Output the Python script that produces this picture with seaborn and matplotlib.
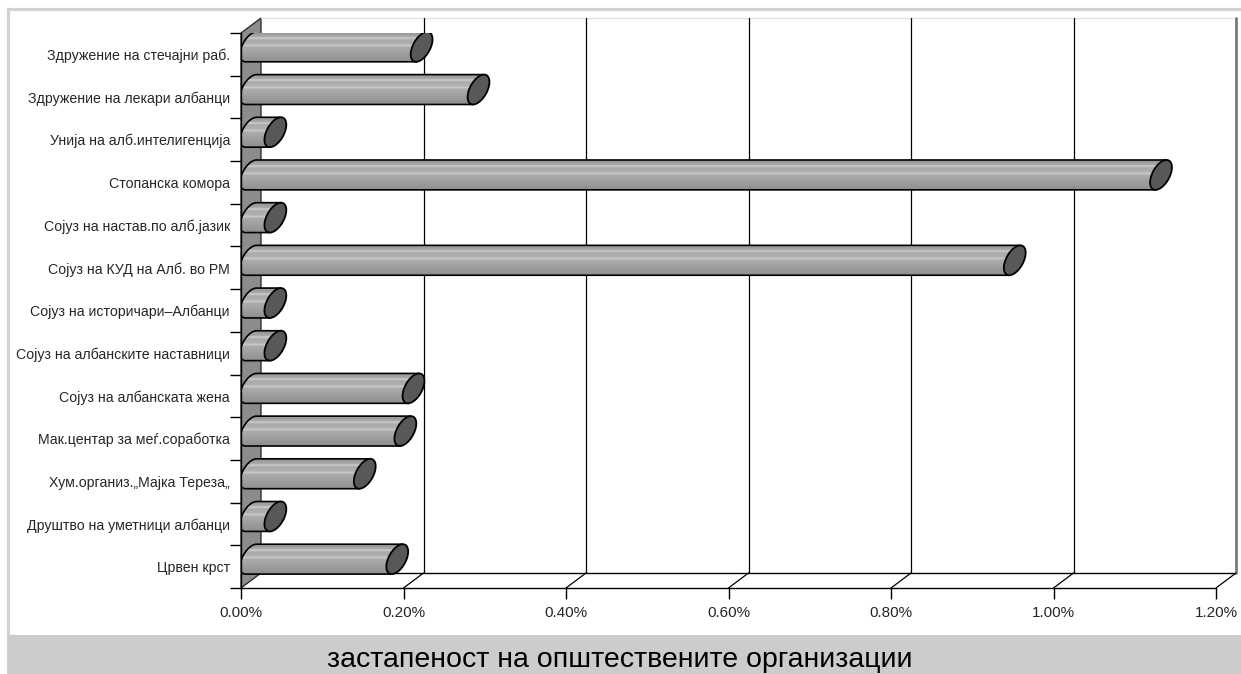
import numpy as np
import pandas as pd
import matplotlib
matplotlib.use("Agg")
import matplotlib.pyplot as plt
import seaborn as sns
from matplotlib.patches import Polygon, Rectangle
from matplotlib.lines import Line2D

# ---- data -------------------------------------------------------------
categories = [
    "Здружение на стечајни раб.",
    "Здружение на лекари албанци",
    "Унија на алб.интелигенција",
    "Стопанска комора",
    "Сојуз на настав.по алб.јазик",
    "Сојуз на КУД на Алб. во РМ",
    "Сојуз на историчари–Албанци",
    "Сојуз на албанските наставници",
    "Сојуз на албанската жена",
    "Мак.центар за меѓ.соработка",
    "Хум.организ.„Мајка Тереза„",
    "Друштво на уметници албанци",
    "Црвен крст",
]
values = [0.21, 0.28, 0.03, 1.12, 0.03, 0.94, 0.03, 0.03, 0.20, 0.19, 0.14, 0.03, 0.18]
x_ticks = [0.0, 0.2, 0.4, 0.6, 0.8, 1.0, 1.2]
x_tick_labels = [f"{t:.2f}%" for t in x_ticks]
title = "застапеност на општествените организации"

# ---- style ------------------------------------------------------------
sns.set_style("white")
plt.rcParams["font.family"] = ["Liberation Sans", "DejaVu Sans"]

W, H = 1241, 674
DX, DY = 20.0, 15.0          # depth of the 3-D box, in pixels (right, up)

fig = plt.figure(figsize=(W / 100, H / 100), dpi=100)
fig.patch.set_facecolor("white")

# outer frame and title band
fig.add_artist(Rectangle((8 / W, 0), 1.0, (H - 9) / H, transform=fig.transFigure,
                         fill=False, ec="#d2d2d2", lw=2.3, zorder=0))
fig.add_artist(Rectangle((8 / W, 0), 1.0, (H - 635) / H, transform=fig.transFigure,
                         fc="#cccccc", ec="none", zorder=0))
fig.text(620 / W, (H - 660) / H, title, ha="center", va="center",
         fontsize=20.5, color="black")

# front plane of the plot box
ax = fig.add_axes([241 / W, (H - 588) / H, 975 / W, 555 / H])
df = pd.DataFrame({"org": categories, "share": values})
sns.barplot(data=df, x="share", y="org", orient="h", width=0.7,
            color="#a0a0a0", ax=ax)

n = len(categories)
ax.set_xlim(0, 1.2)
ax.set_ylim(n - 0.5, -0.5)
ax.patch.set_alpha(0)
ax.set_xlabel("")
ax.set_ylabel("")
for side in ("top", "right"):
    ax.spines[side].set_visible(False)
for side in ("left", "bottom"):
    ax.spines[side].set_color("black")
    ax.spines[side].set_linewidth(1.0)
    ax.spines[side].set_zorder(6)

ax.set_xticks(x_ticks, x_tick_labels)
ax.tick_params(axis="x", bottom=True, length=8, width=1, color="black",
               pad=5, labelsize=11)
ax.set_yticks(range(n), categories)
ax.set_yticks(np.arange(-0.5, n, 1.0), minor=True)
ax.tick_params(axis="y", which="major", left=True, length=0, pad=8, labelsize=10.2)
ax.tick_params(axis="y", which="minor", left=True, length=8, width=1, color="black")


def disp(x, y):
    return np.asarray(ax.transData.transform((x, y)), dtype=float)


def to_data(pts):
    return ax.transData.inverted().transform(np.asarray(pts, dtype=float))


off = np.array([DX, DY])
x_min, x_max = x_ticks[0], x_ticks[-1]
y_top, y_bot = -0.5, n - 0.5

# left side wall
ft, fb = disp(x_min, y_top), disp(x_min, y_bot)
wall = Polygon(to_data([ft, ft + off, fb + off, fb]), closed=True,
               fc="#8c8c8c", ec="#222222", lw=0.9, zorder=1, clip_on=False)
ax.add_patch(wall)


def seg(p, q, **kw):
    d = to_data([p, q])
    ax.add_line(Line2D(d[:, 0], d[:, 1], clip_on=False, **kw))


# back wall top edge and floor back edge
seg(disp(x_min, y_top) + off, disp(x_max, y_top) + off, color="#e2e2e2", lw=1.0, zorder=1)
seg(disp(x_min, y_bot) + off, disp(x_max, y_bot) + off, color="black", lw=1.0, zorder=1.5)

# gridlines on the back wall and their floor diagonals
for t in x_ticks[1:]:
    last = t == x_ticks[-1]
    seg(disp(t, y_top) + off, disp(t, y_bot) + off,
        color="#7a7a7a" if last else "black", lw=2.0 if last else 0.9, zorder=1.5)
    seg(disp(t, y_bot), disp(t, y_bot) + off, color="black", lw=0.9, zorder=1.5)

# cylinder shading, top to bottom
profile = np.array([0x94, 0x9a, 0x9e, 0xa2, 0xaa, 0xc0, 0xc6, 0xb2, 0xaa, 0xac,
                    0xae, 0xb0, 0xba, 0xc8, 0xb8, 0xac, 0xaa, 0xa8, 0xa6, 0xa4,
                    0xa2, 0xa0, 0x9e, 0x9c, 0x9a, 0x98, 0x96, 0x94, 0x92, 0x90]) / 255.0
shade = np.repeat(profile[:, None], 3, axis=1)[:, None, :]

# turn each seaborn bar into a cylinder sitting at mid-depth
for patch in list(ax.patches):
    if patch is wall:
        continue
    x0, w = patch.get_x(), patch.get_width()
    yb, h = patch.get_y(), patch.get_height()
    yc = yb + h / 2
    patch.set_visible(False)

    pL = disp(x0, yc) + off / 2
    pR = disp(x0 + w, yc) + off / 2
    ry = abs(disp(x0, yb)[1] - disp(x0, yb + h)[1]) / 2
    k, rx = 0.37 * ry, 0.63 * ry
    cy = pL[1]

    th = np.linspace(np.pi / 2, 3 * np.pi / 2, 50)
    left_half = np.column_stack([pL[0] + rx * np.cos(th) + k * np.sin(th),
                                 cy + ry * np.sin(th)])
    body = np.vstack([left_half,
                      [[pR[0] - k, cy - ry], [pR[0] + k, cy + ry]]])
    body_d = to_data(body)

    outline = Polygon(body_d, closed=True, fill=False, ec="black", lw=1.2, zorder=4)
    ax.add_patch(outline)
    img = ax.imshow(shade, extent=(body_d[:, 0].min(), body_d[:, 0].max(),
                                   body_d[:, 1].max(), body_d[:, 1].min()),
                    origin="upper", aspect="auto", interpolation="bilinear", zorder=3)
    img.set_clip_path(outline)

    tf = np.linspace(0, 2 * np.pi, 80)
    cap = np.column_stack([pR[0] + rx * np.cos(tf) + k * np.sin(tf),
                           cy + ry * np.sin(tf)])
    ax.add_patch(Polygon(to_data(cap), closed=True, fc="#585858", ec="black",
                         lw=1.3, zorder=5))

ax.set_xlim(0, 1.2)
ax.set_ylim(n - 0.5, -0.5)

fig.savefig("out.png", dpi=100)
